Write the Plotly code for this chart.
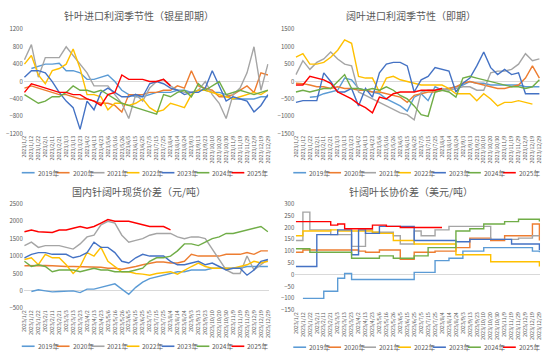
import plotly.graph_objects as go

ticks = ["2023/1/2","2023/1/12","2023/1/22","2023/2/1","2023/2/11","2023/2/21","2023/3/3","2023/3/13",
         "2023/3/23","2023/4/2","2023/4/13","2023/4/23","2023/5/6","2023/5/16","2023/5/26","2023/6/5",
         "2023/6/15","2023/6/25","2023/7/5","2023/7/15","2023/7/25","2023/8/4","2023/8/14","2023/8/24",
         "2023/9/3","2023/9/13","2023/9/23","2023/10/10","2023/10/20","2023/10/30","2023/11/9","2023/11/19",
         "2023/11/29","2023/12/9","2023/12/19","2023/12/29"]
years = ["2019年", "2020年", "2021年", "2022年", "2023年", "2024年", "2025年"]
colors = ["#5B9BD5", "#ED7D31", "#A5A5A5", "#FFC000", "#4472C4", "#70AD47", "#FF0000"]
titles = ["针叶进口利润季节性（银星即期）", "阔叶进口利润季节性（即期）",
          "国内针阔叶现货价差（元/吨）", "针阔叶长协价差（美元/吨）"]

# Panel 1: 针叶进口利润
p1_2019 = [None, 300, 350, 400, 400, 420, 250, 250, 200, 50, 50, 100, 150, 0, -200, -300, -350, -350, -300, -250, -250, -250, -200, -200, -250, -200, -200, -250, -250, -300, -400, -400, -400, -400, -350, -350]
p1_2020 = [-150, -100, -150, -200, -250, -300, -300, -350, -400, -400, -450, -500, -500, -550, -700, -300, -300, -300, -250, -250, -200, -200, -100, -150, 250, -100, -150, -200, -350, -350, -300, -200, -100, -250, 200, 150]
p1_2021 = [500, 850, 100, 550, 550, 550, 800, 600, 400, 200, -100, -100, -100, -300, -500, -850, -300, -450, -150, 0, 50, -100, -200, -250, -250, -200, 0, -300, -500, -850, -300, -150, 200, 800, -200, 400]
p1_2022 = [400, 600, 150, -50, 250, 300, 400, 750, 300, -300, -300, -350, -650, -500, -500, -550, -500, -400, -600, -700, -650, -500, -550, -600, -300, -200, -200, -250, -300, -350, -400, -350, -300, -250, -300, -200]
p1_2023 = [100, 250, 250, 200, 0, -250, -450, -600, -1100, -450, -650, -250, -150, -250, -350, -350, -300, -350, -50, 0, -50, -150, -200, -300, -250, -250, -150, 250, -100, -450, -350, -400, -450, -700, -550, -300]
p1_2024 = [-300, -400, -500, -450, -350, -350, -250, -100, -200, -200, -250, -200, -300, -400, -500, -550, -600, -650, -700, -750, -300, -350, -250, -200, -350, -50, -200, -100, 0, -300, -250, -200, -250, -300, -250, -200]
p1_2025 = [-250, -50, -100, -150, -200, -250, -250, -300, -300, -400, -450, -550, -300, -250, 150, 50, 50, 50, 0, 0, 50, -100]

# Panel 2: 阔叶进口利润
p2_2019 = [None, None, -450, -430, -350, -300, -250, 100, 50, -200, -250, -300, -350, -500, -600, -700, -850, -450, -350, -550, -150, -250, -200, -150, -100, 0, -50, -50, -100, -100, -100, -100, -100, -150, -150, -150]
p2_2020 = [-50, -60, -100, -150, -150, -200, -150, -200, -200, -250, -250, -300, -300, -350, -400, -450, -600, -400, -350, -300, -300, -250, -200, -150, -50, 0, -50, -100, -150, -200, -200, -150, -100, 100, 450, 100]
p2_2021 = [200, 600, 350, 550, 650, 850, 650, 500, 450, -300, -400, -500, -600, -700, -800, -900, -950, -1100, -300, -250, -250, -200, -250, -200, -150, -150, -250, -250, 250, 300, 300, 350, 500, 800, 600, 650]
p2_2022 = [700, 800, 500, 500, 550, 700, 900, 1200, 1100, 150, 100, 100, -300, 100, 150, 50, 0, -50, -100, -100, -100, -100, -200, -350, -350, -350, -550, -350, -500, -700, -600, -600, -550, -600, -650]
p2_2023 = [-600, -550, -550, -550, 250, 0, -300, -300, -200, -700, -200, -450, 250, 500, 550, 550, 450, -300, 50, 150, 400, 350, 300, -300, -50, 100, 450, 850, 400, 200, 350, 200, 250, -350, -350, -350]
p2_2024 = [-300, -250, -300, -250, -200, -200, 0, 200, -200, -200, -250, -200, -250, -150, -250, -400, -500, -700, -950, -1000, -300, -250, -300, -450, 100, 150, 100, 50, 0, -50, -100, -150, -150, -200, -150, 50]
p2_2025 = [-100, -100, 150, 100, 50, -50, -300, -400, -500, -650, -750, -900, -450, -500, -350, -300, -300, -300, -250, -250, -250, -200]

# Panel 3: 国内针阔叶现货价差
p3_2019 = [None, -20, 30, 0, -30, -20, -20, 0, -50, 50, 50, 100, 150, 200, 50, -100, 100, 250, 350, 400, 450, 500, 550, 550, 600, 600, 600, 650, 650, 650, 650, 650, 700, 700, 700, 700]
p3_2020 = [720, 730, 730, 730, 720, 700, 700, 700, 700, 700, 700, 680, 650, 650, 620, 650, 700, 750, 800, 830, 830, 800, 800, 850, 1050, 1000, 1000, 1000, 1000, 1050, 1050, 1050, 1100, 1050, 1150, 1150]
p3_2021 = [1300, 1400, 1250, 1300, 1300, 1300, 1250, 1200, 1350, 1550, 1600, 1900, 2000, 1950, 1600, 1400, 1450, 1500, 1600, 1650, 1650, 1650, 1550, 1500, 1550, 1550, 1500, 1200, 900, 600, 500, 500, 1000, 600, 750, 900]
p3_2022 = [900, 950, 750, 1050, 950, 950, 750, 500, 700, 1100, 1000, 1250, 850, 700, 550, 550, 500, 480, 450, 500, 520, 550, 480, 600, 700, 800, 700, 650, 650, 650, 650, 700, 750, 850, 800, 850]
p3_2023 = [950, 1050, 1100, 1100, 1050, 1050, 1050, 950, 1000, 1100, 1400, 1250, 1250, 1100, 850, 800, 950, 1050, 1000, 1000, 1000, 850, 750, 750, 800, 850, 750, 800, 700, 600, 650, 650, 450, 600, 850, 900]
p3_2024 = [850, 700, 750, 700, 550, 600, 600, 600, 550, 600, 650, 600, 600, 550, 550, 550, 600, 650, 850, 950, 950, 1000, 1150, 1350, 1350, 1300, 1400, 1500, 1550, 1650, 1650, 1700, 1750, 1800, 1850, 1700]
p3_2025 = [1700, 1750, 1700, 1700, 1680, 1750, 1750, 1800, 1850, 1800, 1850, 1950, 2050, 2000, 2000, 2000, 1950, 1900, 1850, 1850, 1850, 1750]

# Panel 4: 针阔叶长协价差
p4_2019 = [None, -100, -100, -100, -70, -70, -15, 5, -20, -20, -20, -20, -20, -20, -20, -20, -20, 10, 10, 10, 60, 60, 70, 70, 100, 100, 100, 115, 115, 115, 115, 115, 115, 115, 100, 95]
p4_2020 = [95, 105, 105, 105, 105, 105, 105, 105, 105, 100, 95, 95, 105, 105, 105, 65, 65, 95, 95, 95, 100, 100, 100, 115, 115, 155, 155, 155, 145, 145, 165, 165, 165, 165, 215, 145]
p4_2021 = [145, 265, 190, 190, 190, 170, 170, 170, 120, 120, 190, 180, 180, 180, 165, 130, 130, 185, 165, 165, 190, 190, 205, 205, 205, 205, 205, 205, 150, 150, 150, 150, 155, 155, 165, 165]
p4_2022 = [165, 185, 185, 185, 185, 190, 185, 185, 185, 185, 185, 180, 175, 175, 145, 145, 145, 130, 130, 130, 130, 130, 130, 85, 85, 85, 85, 85, 55, 55, 55, 55, 55, 55, 55, 35]
p4_2023 = [35, 35, 35, 170, 170, 170, 190, 190, 85, 190, 175, 175, 205, 205, 205, 205, 205, 145, 145, 145, 145, 145, 145, 140, 140, 150, 150, 150, 150, 150, 150, 130, 130, 130, 130, 105]
p4_2024 = [110, 110, 95, 95, 95, 95, 95, 95, 70, 70, 70, 70, 80, 80, 70, 70, 70, 80, 80, 115, 115, 115, 115, 185, 185, 195, 195, 215, 215, 215, 225, 225, 235, 235, 235, 225]
p4_2025 = [225, 225, 225, 225, 225, 210, 215, 195, 195, 195, 195, 210, 210, 205, 205, 200, 200, 200, 200, 200, 200, 200]

panels = [
    [p1_2019, p1_2020, p1_2021, p1_2022, p1_2023, p1_2024, p1_2025],
    [p2_2019, p2_2020, p2_2021, p2_2022, p2_2023, p2_2024, p2_2025],
    [p3_2019, p3_2020, p3_2021, p3_2022, p3_2023, p3_2024, p3_2025],
    [p4_2019, p4_2020, p4_2021, p4_2022, p4_2023, p4_2024, p4_2025],
]
yranges = [(-1200, 1200, 400), (-1500, 1500, 500), (-500, 2500, 500), (-150, 300, 50)]

W, H = 550, 360
# pixel layout for each panel: (x0, x1, ytop, ybottom)
boxes = [(20, 268, 25, 132), (295, 543, 25, 132), (20, 268, 204, 311), (295, 543, 204, 313)]
legend_y = [172, 172, 350, 351]
title_y = [11, 11, 191, 191]
offs = [0, 275, 0, 275]

fig = go.Figure()
layout = dict(width=W, height=H, margin=dict(l=0, r=0, t=0, b=0),
              paper_bgcolor="white", plot_bgcolor="white", showlegend=False,
              font=dict(family="Noto Sans CJK SC, Noto Sans, sans-serif", color="#595959"))
shapes, annots = [], []
xs = list(range(len(ticks)))

for p in range(4):
    sfx = "" if p == 0 else str(p + 1)
    for k, series in enumerate(panels[p]):
        ys = list(series) + [None] * (len(ticks) - len(series))
        fig.add_trace(go.Scatter(x=xs, y=ys, mode="lines", name=years[k],
                                 line=dict(color=colors[k], width=1.4,
                                           shape="hv" if p == 3 else "linear"),
                                 xaxis="x" + sfx, yaxis="y" + sfx, connectgaps=False))
    x0, x1, yt, yb = boxes[p]
    lo, hi, dt = yranges[p]
    layout["xaxis" + sfx] = dict(domain=[x0 / W, x1 / W], range=[-0.1, 35.1],
                                 anchor="y" + sfx, tickmode="array", tickvals=xs, ticktext=ticks,
                                 tickangle=-90, tickfont=dict(size=5.3, color="#595959"),
                                 showgrid=False, zeroline=False, showline=False, ticks="")
    layout["yaxis" + sfx] = dict(domain=[1 - yb / H, 1 - yt / H], range=[lo, hi], dtick=dt,
                                 anchor="x" + sfx, tickfont=dict(size=6, color="#595959"),
                                 showgrid=False, zeroline=True, zerolinecolor="#D9D9D9",
                                 zerolinewidth=1, showline=False, ticks="")
    ox = offs[p]
    annots.append(dict(text=titles[p], x=(ox + 137) / W, y=1 - title_y[p] / H, xref="paper",
                       yref="paper", showarrow=False, xanchor="center", yanchor="middle",
                       font=dict(size=10, color="#595959")))
    ly = 1 - legend_y[p] / H
    for k in range(7):
        lx0 = ox + 18 + 35.4 * k
        shapes.append(dict(type="line", xref="paper", yref="paper", x0=lx0 / W, x1=(lx0 + 13) / W,
                           y0=ly, y1=ly, line=dict(color=colors[k], width=1.6)))
        annots.append(dict(text=years[k], x=(lx0 + 14) / W, y=ly, xref="paper", yref="paper",
                           showarrow=False, xanchor="left", yanchor="middle",
                           font=dict(size=6.5, color="#595959")))

layout["shapes"] = shapes
layout["annotations"] = annots
fig.update_layout(**layout)
fig.write_html("out.html", config={"displayModeBar": False},
               post_script=("document.body.style.margin='0';document.body.style.padding='0';"
                            "var d=document.getElementById('{plot_id}');"
                            "d.style.position='absolute';d.style.left='0px';d.style.top='0px';"))
